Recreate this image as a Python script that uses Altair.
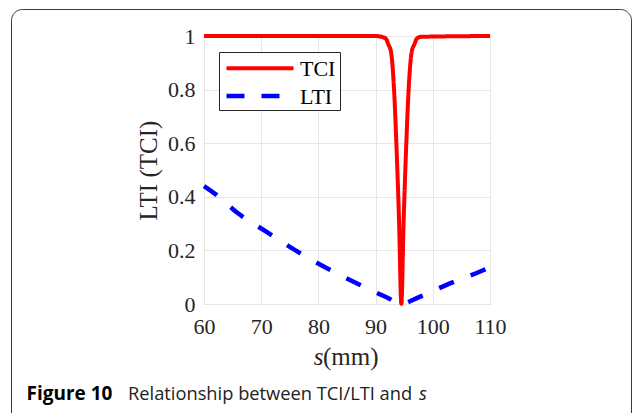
import altair as alt
import pandas as pd

# ---- data ----
s_tci = [60, 90, 91, 91.8, 92.2, 92.7, 93.2, 93.7, 94.1, 94.5, 94.9, 95.3, 95.8, 96.3, 96.8, 97.2, 98, 110]
tci = [1, 1, 0.997, 0.99, 0.97, 0.94, 0.81, 0.56, 0.31, 0.0, 0.31, 0.56, 0.81, 0.94, 0.97, 0.99, 0.997, 1]

s_lti = [60, 62, 66, 71, 76, 81, 86.5, 92, 94.5, 97.4, 102.8, 108.4, 110]
lti = [0.44, 0.41, 0.3375, 0.2685, 0.2, 0.139, 0.079, 0.024, 0.0, 0.024, 0.075, 0.122, 0.137]

series_names = ["TCI", "LTI"]
series_colors = ["#ff0000", "#0000ff"]
series_dash = [[1, 0], [16, 18]]
series_width = [4, 4.5]
x_ticks = [60, 70, 80, 90, 100, 110]
y_ticks = [0, 0.2, 0.4, 0.6, 0.8, 1]

y_title = "LTI (TCI)"
x_title_italic = "s"
x_title_rest = "(mm)"
caption_bold = "Figure 10"
caption_text = "Relationship between TCI/LTI and"
caption_italic = "s"

df = pd.concat([
    pd.DataFrame({"s": s_lti, "v": lti, "series": "LTI"}),
    pd.DataFrame({"s": s_tci, "v": tci, "series": "TCI"}),
], ignore_index=True)

W, H = 286, 268
SERIF = "Liberation Serif"
SANS = "Open Sans"
one = alt.Data(values=[{}])

lines = alt.Chart(df).mark_line(interpolate="monotone").encode(
    x=alt.X("s:Q", scale=alt.Scale(domain=[60, 110], nice=False, zero=False),
            axis=alt.Axis(values=x_ticks, title=None, format="d", labelFlush=False)),
    y=alt.Y("v:Q", scale=alt.Scale(domain=[0, 1], nice=False),
            axis=alt.Axis(values=y_ticks, format="~g", title=y_title,
                          titleX=-56, titleY=H / 2, titleAngle=270,
                          titleAlign="center", titleBaseline="middle",
                          titleFont=SERIF, titleFontSize=25, titleFontWeight="normal",
                          titleColor="#262626")),
    color=alt.Color("series:N", scale=alt.Scale(domain=series_names, range=series_colors),
                    legend=None),
    strokeDash=alt.StrokeDash("series:N", scale=alt.Scale(domain=series_names, range=series_dash),
                              legend=None),
    strokeWidth=alt.StrokeWidth("series:N", scale=alt.Scale(domain=series_names, range=series_width),
                                legend=None),
)

border = alt.Chart(one).mark_rect(
    cornerRadius=11, fill="white", fillOpacity=0, stroke="#3a3a3a", strokeWidth=1
).encode(x=alt.value(-192.5), x2=alt.value(427.5), y=alt.value(-26.5), y2=alt.value(420))

# legend (manual box in MATLAB style)
leg_box = alt.Chart(one).mark_rect(
    fill="white", stroke="#262626", strokeWidth=1
).encode(x=alt.value(15.5), x2=alt.value(136.5), y=alt.value(16.5), y2=alt.value(74.5))
leg_tci = alt.Chart(one).mark_rule(
    color=series_colors[0], strokeWidth=4
).encode(x=alt.value(22.5), x2=alt.value(89.5), y=alt.value(32.3))
leg_lti = alt.Chart(one).mark_rule(
    color=series_colors[1], strokeWidth=4.5, strokeDash=[18, 17]
).encode(x=alt.value(22.5), x2=alt.value(89.5), y=alt.value(60))
leg_t1 = alt.Chart(one).mark_text(
    text=series_names[0], font=SERIF, fontSize=22, align="left", baseline="middle", color="#000000"
).encode(x=alt.value(96), y=alt.value(33))
leg_t2 = alt.Chart(one).mark_text(
    text=series_names[1], font=SERIF, fontSize=22, align="left", baseline="middle", color="#000000"
).encode(x=alt.value(96), y=alt.value(60.5))

xt1 = alt.Chart(one).mark_text(
    text=x_title_italic, font=SERIF, fontSize=25, fontStyle="italic", align="right",
    baseline="alphabetic", color="#262626"
).encode(x=alt.value(119.5), y=alt.value(329))
xt2 = alt.Chart(one).mark_text(
    text=x_title_rest, font=SERIF, fontSize=25, align="left",
    baseline="alphabetic", color="#262626"
).encode(x=alt.value(119), y=alt.value(329))

cap1 = alt.Chart(one).mark_text(
    text=caption_bold, font=SANS, fontSize=19, fontWeight="bold", align="left",
    baseline="alphabetic", color="#000000"
).encode(x=alt.value(-177.5), y=alt.value(364))
cap2 = alt.Chart(one).mark_text(
    text=caption_text, font=SANS, fontSize=18.3, align="left",
    baseline="alphabetic", color="#222222"
).encode(x=alt.value(-76), y=alt.value(364))
cap3 = alt.Chart(one).mark_text(
    text=caption_italic, font=SANS, fontSize=18.3, fontStyle="italic", align="left",
    baseline="alphabetic", color="#222222"
).encode(x=alt.value(215), y=alt.value(364))

chart = alt.layer(border, lines, leg_box, leg_tci, leg_lti, leg_t1, leg_t2,
                  xt1, xt2, cap1, cap2, cap3).properties(
    width=W, height=H,
    autosize=alt.AutoSizeParams(type="none"),
    padding={"left": 204, "top": 36, "right": 634 - 204 - W, "bottom": 413 - 36 - H},
    background="white",
).configure_view(
    stroke="#555555", strokeWidth=1
).configure_axis(
    grid=True, gridColor="#e6e6e6", gridWidth=1, domain=False, ticks=False,
    labelFont=SERIF, labelFontSize=22, labelColor="#262626",
).configure_axisX(
    labelPadding=12
).configure_axisY(
    labelPadding=9
)

chart.save("out.html", embed_options={"renderer": "svg", "actions": False})
